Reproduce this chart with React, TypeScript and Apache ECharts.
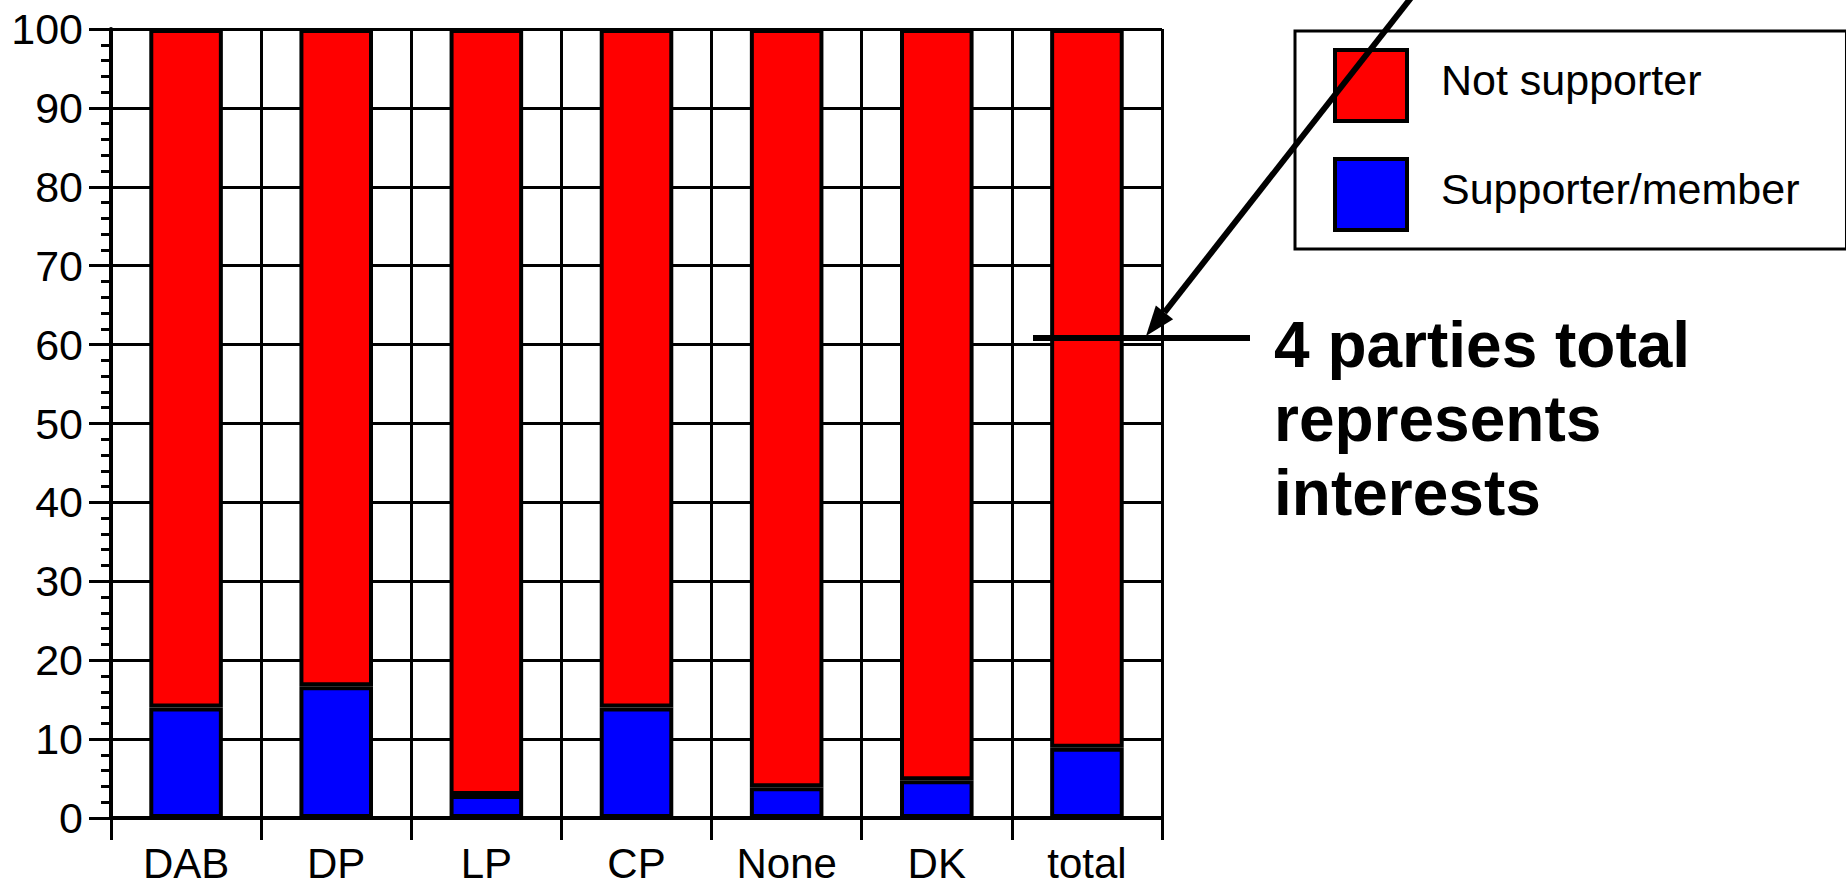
import React, { useEffect, useRef } from "react";
import * as echarts from "echarts";

const categories = ["DAB", "DP", "LP", "CP", "None", "DK", "total"];
const supporterMember = [14, 16.7, 2.9, 14, 3.9, 4.8, 8.9];
const notSupporter = [86, 83.3, 97.1, 86, 96.1, 95.2, 91.1];
const seriesNames = ["Not supporter", "Supporter/member"];
const annotationLines = ["4 parties total", "represents", "interests"];

const FONT = "'Liberation Sans', Arial, Helvetica, sans-serif";

export default function App() {
  const ref = useRef<HTMLDivElement>(null);

  useEffect(() => {
    if (!ref.current) return;
    const chart = echarts.init(ref.current, null, { renderer: "svg" });

    // arrow geometry
    const tip = [1146, 336];
    const tail = [1414, -6];
    const dx = tail[0] - tip[0];
    const dy = tail[1] - tip[1];
    const len = Math.sqrt(dx * dx + dy * dy);
    const ux = dx / len;
    const uy = dy / len;
    const headLen = 30;
    const headHalf = 11;
    const base = [tip[0] + ux * headLen, tip[1] + uy * headLen];
    const px = -uy;
    const py = ux;

    chart.setOption({
      animation: false,
      backgroundColor: "#ffffff",
      grid: { left: 111, right: 684, top: 29, bottom: 67, containLabel: false },
      legend: {
        data: seriesNames,
        orient: "vertical",
        left: 1295,
        top: 31,
        icon: "rect",
        itemWidth: 72,
        itemHeight: 71,
        itemGap: 34,
        padding: [17, 47, 17, 38],
        borderColor: "#000",
        borderWidth: 3,
        selectedMode: false,
        itemStyle: { borderColor: "#000", borderWidth: 4 },
        formatter: "{a|{name}}",
        textStyle: {
          fontFamily: FONT,
          fontSize: 43,
          color: "#000",
          rich: {
            a: {
              fontFamily: FONT,
              fontSize: 43,
              color: "#000",
              padding: [0, 0, 12, 29],
            },
          },
        },
      },
      xAxis: {
        type: "category",
        data: categories,
        boundaryGap: true,
        axisLine: { show: true, lineStyle: { color: "#000", width: 4 } },
        axisTick: { show: true, length: 22, alignWithLabel: false, lineStyle: { color: "#000", width: 3 } },
        splitLine: { show: true, lineStyle: { color: "#000", width: 3 } },
        axisLabel: { fontFamily: FONT, fontSize: 42, color: "#000", margin: 24 },
      },
      yAxis: {
        type: "value",
        min: 0,
        max: 100,
        interval: 10,
        axisLine: { show: true, lineStyle: { color: "#000", width: 4 } },
        axisTick: { show: true, length: 22, lineStyle: { color: "#000", width: 3 } },
        minorTick: { show: true, splitNumber: 5, length: 10, lineStyle: { color: "#000", width: 3 } },
        splitLine: { show: true, lineStyle: { color: "#000", width: 3 } },
        axisLabel: { fontFamily: FONT, fontSize: 43, color: "#000", margin: 28 },
      },
      series: [
        {
          name: seriesNames[1],
          type: "bar",
          stack: "total",
          barWidth: "49%",
          data: supporterMember,
          itemStyle: { color: "#0000FF", borderColor: "#000", borderWidth: 4 },
        },
        {
          name: seriesNames[0],
          type: "bar",
          stack: "total",
          barWidth: "49%",
          data: notSupporter,
          itemStyle: { color: "#FF0000", borderColor: "#000", borderWidth: 4 },
        },
      ],
      graphic: [
        {
          type: "line",
          z: 100,
          shape: { x1: 1033, y1: 338, x2: 1250, y2: 338 },
          style: { stroke: "#000", lineWidth: 6 },
        },
        {
          type: "line",
          z: 100,
          shape: { x1: tail[0], y1: tail[1], x2: base[0], y2: base[1] },
          style: { stroke: "#000", lineWidth: 6 },
        },
        {
          type: "polygon",
          z: 100,
          shape: {
            points: [
              [tip[0], tip[1]],
              [base[0] + px * headHalf, base[1] + py * headHalf],
              [base[0] - px * headHalf, base[1] - py * headHalf],
            ],
          },
          style: { fill: "#000" },
        },
        ...annotationLines.map((t, i) => ({
          type: "text",
          z: 100,
          x: 1274,
          y: 345 + i * 74,
          style: {
            text: t,
            fontFamily: FONT,
            fontWeight: "bold",
            fontSize: 64,
            fill: "#000",
            align: "left",
            verticalAlign: "middle",
          },
        })),
      ],
    });

    return () => chart.dispose();
  }, []);

  return (
    <div
      ref={ref}
      style={{ position: "fixed", left: 0, top: 0, width: 1846, height: 885, background: "#fff" }}
    />
  );
}
